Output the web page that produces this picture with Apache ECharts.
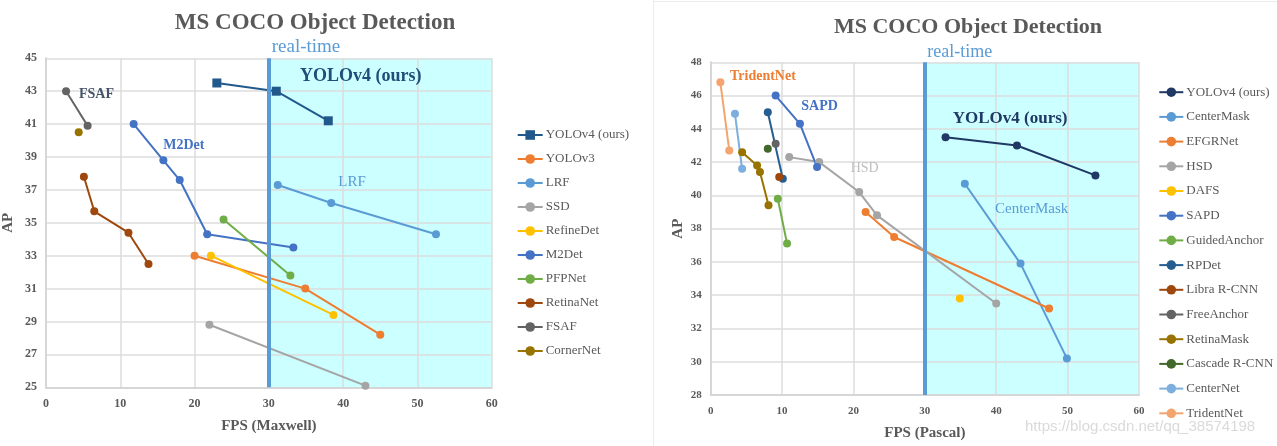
<!DOCTYPE html>
<html>
<head>
<meta charset="utf-8">
<script src="https://cdn.jsdelivr.net/npm/echarts@6/dist/echarts.min.js"></script>
<style>
html,body{margin:0;padding:0;background:#fff;}
#c{width:1277px;height:446px;}
</style>
</head>
<body>
<div id="c"></div>
<script>
// ---------- Data: left panel (FPS on Maxwell) ----------
const xTicksL = [0, 10, 20, 30, 40, 50, 60];
const yTicksL = [25, 27, 29, 31, 33, 35, 37, 39, 41, 43, 45];
const yolov4L   = [[23, 43.5], [31, 43.0], [38, 41.2]];
const yolov3L   = [[20, 33.0], [34.9, 31.0], [45, 28.2]];
const lrfL      = [[31.2, 37.3], [38.4, 36.2], [52.5, 34.3]];
const ssdL      = [[22, 28.8], [43, 25.1]];
const refineL   = [[22.2, 33.0], [38.7, 29.4]];
const m2detL    = [[11.8, 41.0], [15.8, 38.8], [18.0, 37.6], [21.7, 34.3], [33.3, 33.5]];
const pfpnetL   = [[23.9, 35.2], [32.9, 31.8]];
const retinaL   = [[5.1, 37.8], [6.5, 35.7], [11.1, 34.4], [13.8, 32.5]];
const fsafL     = [[2.7, 43.0], [5.6, 40.9]];
const cornerL   = [[4.4, 40.5]];

// ---------- Data: right panel (FPS on Pascal) ----------
const xTicksR = [0, 10, 20, 30, 40, 50, 60];
const yTicksR = [28, 30, 32, 34, 36, 38, 40, 42, 44, 46, 48];
const yolov4R     = [[32.9, 43.5], [42.9, 43.0], [53.9, 41.2]];
const centermaskR = [[35.6, 40.7], [43.4, 35.9], [49.9, 30.2]];
const efgrnetR    = [[21.7, 39.0], [25.7, 37.5], [47.4, 33.2]];
const hsdR        = [[11.0, 42.3], [15.2, 42.0], [20.8, 40.2], [23.3, 38.8], [40.0, 33.5]];
const dafsR       = [[34.9, 33.8]];
const sapdR       = [[9.1, 46.0], [12.5, 44.3], [14.9, 41.7]];
const guidedR     = [[9.4, 39.8], [10.7, 37.1]];
const rpdetR      = [[8.0, 45.0], [10.1, 41.0]];
const libraR      = [[9.6, 41.1]];
const freeAnchorR = [[9.1, 43.1]];
const retinaMaskR = [[4.4, 42.6], [6.5, 41.8], [6.9, 41.4], [8.1, 39.4]];
const cascadeR    = [[8.0, 42.8]];
const centernetR  = [[3.4, 44.9], [4.4, 41.6]];
const tridentR    = [[1.35, 46.8], [2.6, 42.7]];

const realTimeFPS = 30;
const realTimeRange = [30, 60];

const seriesL = [
  ['YOLOv4 (ours)', yolov4L, '#22598c', 'rect'],
  ['YOLOv3', yolov3L, '#ed7d31'],
  ['LRF', lrfL, '#5b9bd5'],
  ['SSD', ssdL, '#a5a5a5'],
  ['RefineDet', refineL, '#ffc000'],
  ['M2Det', m2detL, '#4472c4'],
  ['PFPNet', pfpnetL, '#70ad47'],
  ['RetinaNet', retinaL, '#9e480e'],
  ['FSAF', fsafL, '#636363'],
  ['CornerNet', cornerL, '#997300']
];
const seriesR = [
  ['YOLOv4 (ours)', yolov4R, '#1f3864'],
  ['CenterMask', centermaskR, '#5b9bd5'],
  ['EFGRNet', efgrnetR, '#ed7d31'],
  ['HSD', hsdR, '#a5a5a5'],
  ['DAFS', dafsR, '#ffc000'],
  ['SAPD', sapdR, '#4472c4'],
  ['GuidedAnchor', guidedR, '#70ad47'],
  ['RPDet', rpdetR, '#255e91'],
  ['Libra R-CNN', libraR, '#9e480e'],
  ['FreeAnchor', freeAnchorR, '#636363'],
  ['RetinaMask', retinaMaskR, '#997300'],
  ['Cascade R-CNN', cascadeR, '#43682b'],
  ['CenterNet', centernetR, '#7cafdd'],
  ['TridentNet', tridentR, '#f4a46e']
];

const SERIF = '"Liberation Serif", "DejaVu Serif", serif';
const GRAY = '#595959';

function mkAxisX(idx, ticks, name, fs) {
  return {
    type: 'value', gridIndex: idx, min: ticks[0], max: ticks[ticks.length - 1],
    interval: ticks[1] - ticks[0], z: 2,
    name: name, nameLocation: 'middle', nameGap: 31,
    nameTextStyle: { fontFamily: SERIF, fontWeight: 'bold', fontSize: 15, color: GRAY },
    axisLine: { show: true, lineStyle: { color: '#d6d6d6', width: 2 } },
    axisTick: { show: false },
    axisLabel: { margin: 11, fontFamily: SERIF, fontWeight: 'bold', fontSize: fs, color: GRAY },
    splitLine: { show: true, lineStyle: { color: '#dcdcdc', width: 1.5 } }
  };
}
function mkAxisY(idx, ticks, gap, fs) {
  return {
    type: 'value', gridIndex: idx, min: ticks[0], max: ticks[ticks.length - 1],
    interval: ticks[1] - ticks[0], z: 2,
    name: 'AP', nameLocation: 'middle', nameGap: gap, nameRotate: 90,
    nameTextStyle: { fontFamily: SERIF, fontWeight: 'bold', fontSize: 15, color: GRAY },
    axisLine: { show: true, lineStyle: { color: '#d6d6d6', width: 2 } },
    axisTick: { show: false },
    axisLabel: { margin: 9, fontFamily: SERIF, fontWeight: 'bold', fontSize: fs, color: GRAY },
    splitLine: { show: true, lineStyle: { color: '#dcdcdc', width: 1.5 } }
  };
}

const series = [];
function addSeries(list, idx, prefix) {
  list.forEach((s, i) => {
    const o = {
      name: prefix + s[0], type: 'line', xAxisIndex: idx, yAxisIndex: idx,
      data: s[1], z: 3,
      symbol: s[3] || 'circle', symbolSize: s[3] ? 9 : 8,
      lineStyle: { color: s[2], width: 2 },
      itemStyle: { color: s[2] },
      emphasis: { disabled: true },
      animation: false
    };
    if (i === 0) {
      o.markArea = {
        silent: true, z: 1,
        itemStyle: { color: '#ccffff', opacity: 1 },
        data: [[{ xAxis: realTimeRange[0] }, { xAxis: realTimeRange[1] }]]
      };
      o.markLine = {
        silent: true, symbol: ['none', 'none'], label: { show: false },
        lineStyle: { color: '#5b9bd5', width: 4, type: 'solid' },
        data: [{ xAxis: realTimeFPS }]
      };
    }
    series.push(o);
  });
}
addSeries(seriesL, 0, 'L:');
addSeries(seriesR, 1, 'R:');

function txt(x, y, text, size, color, bold, align, family) {
  return {
    type: 'text', x: x, y: y, z: 100,
    style: {
      text: text, fill: color, align: align || 'left', verticalAlign: 'middle',
      font: (bold ? 'bold ' : '') + size + 'px ' + (family || SERIF)
    }
  };
}

const option = {
  backgroundColor: '#ffffff',
  animation: false,
  grid: [
    { left: 45.7, top: 58.3, width: 446, height: 329 },
    { left: 710.7, top: 62.3, width: 428.3, height: 336.7 }
  ],
  xAxis: [mkAxisX(0, xTicksL, 'FPS (Maxwell)', 12), mkAxisX(1, xTicksR, 'FPS (Pascal)', 11)],
  yAxis: [mkAxisY(0, yTicksL, 30, 12), mkAxisY(1, yTicksR, 25, 11)],
  legend: [
    {
      orient: 'vertical', left: 511.7, top: 123.5, itemWidth: 25, itemHeight: 12, itemGap: 11,
      data: seriesL.map(s => 'L:' + s[0]),
      formatter: n => n.slice(2),
      textStyle: { fontFamily: SERIF, fontSize: 13, color: GRAY, padding: [0, 0, 0, -2] },
      selectedMode: false
    },
    {
      orient: 'vertical', left: 1153.3, top: 80.7, itemWidth: 24, itemHeight: 12, itemGap: 11.7,
      data: seriesR.map(s => 'R:' + s[0]),
      formatter: n => n.slice(2),
      textStyle: { fontFamily: SERIF, fontSize: 13, color: GRAY, padding: [0, 0, 0, -2] },
      selectedMode: false
    }
  ],
  graphic: [
    { type: 'line', z: 0, shape: { x1: 653.5, y1: 0, x2: 653.5, y2: 446 }, style: { stroke: '#ececec', lineWidth: 1 } },
    { type: 'line', z: 0, shape: { x1: 653.5, y1: 1.5, x2: 1277, y2: 1.5 }, style: { stroke: '#ececec', lineWidth: 1 } },
    txt(315, 23, 'MS COCO Object Detection', 23, GRAY, true, 'center'),
    txt(968, 27, 'MS COCO Object Detection', 22, GRAY, true, 'center'),
    txt(271.7, 47, 'real-time', 19, '#5b9bd5', false),
    txt(927.3, 52, 'real-time', 18, '#5b9bd5', false),
    txt(300, 76, 'YOLOv4 (ours)', 18, '#1f4e79', true),
    txt(952.7, 118.5, 'YOLOv4 (ours)', 17, '#203864', true),
    txt(79, 94, 'FSAF', 14, '#44546a', true),
    txt(163.3, 145.3, 'M2Det', 14, '#4472c4', true),
    txt(338.3, 181.7, 'LRF', 15, '#5b9bd5', false),
    txt(730, 76, 'TridentNet', 14, '#ed7d31', true),
    txt(801.3, 106, 'SAPD', 14, '#4472c4', true),
    txt(850.7, 168.3, 'HSD', 14, '#bfbfbf', false),
    txt(995, 208.7, 'CenterMask', 15, '#5b9bd5', false),
    txt(1025, 427, 'https://blog.csdn.net/qq_38574198', 15, '#dadada', false, 'left', '"Liberation Sans", Arial, sans-serif')
  ],
  series: series
};

const chart = echarts.init(document.getElementById('c'), null, { renderer: 'canvas' });
chart.setOption(option);
</script>
</body>
</html>
